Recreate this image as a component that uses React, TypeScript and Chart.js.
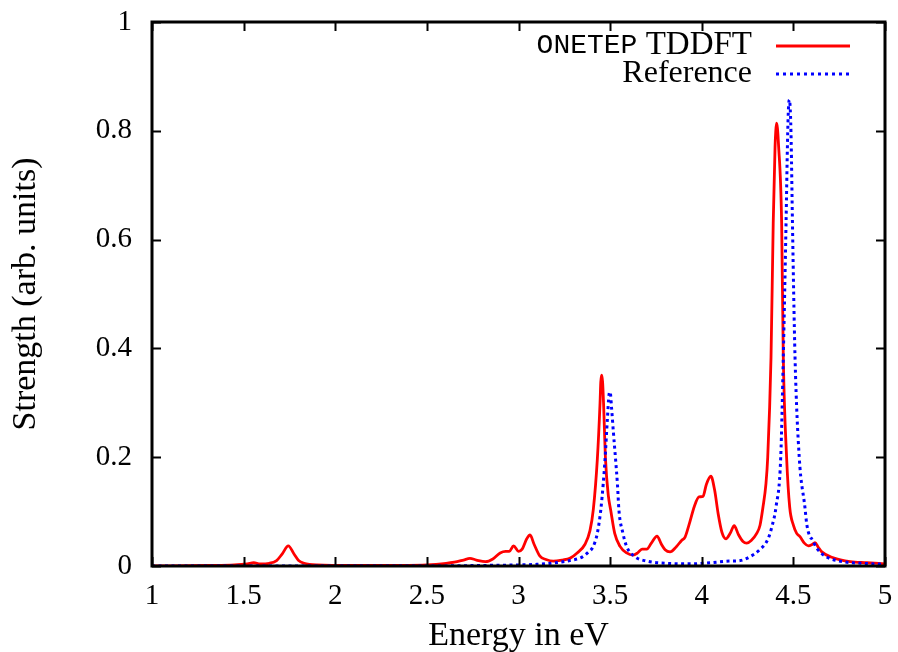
import React, { useEffect, useRef } from "react";
import { Chart, registerables } from "chart.js";

Chart.register(...registerables);

// ONETEP TDDFT spectrum (energy in eV, strength)
const tddftEnergy = [
  1.0, 1.3, 1.45, 1.52, 1.555, 1.59, 1.64, 1.68, 1.71, 1.744, 1.775, 1.8, 1.83, 1.9, 2.1, 2.4,
  2.55, 2.65, 2.7, 2.735, 2.77, 2.82, 2.86, 2.9, 2.93, 2.95, 2.973, 3.0, 3.02, 3.045, 3.063,
  3.085, 3.117, 3.15, 3.19, 3.24, 3.28, 3.32, 3.363, 3.39, 3.408, 3.43, 3.445, 3.449, 3.454,
  3.459, 3.464, 3.475, 3.49, 3.503, 3.525, 3.554, 3.59, 3.625, 3.65, 3.674, 3.7, 3.725, 3.756,
  3.78, 3.8, 3.827, 3.86, 3.89, 3.909, 3.93, 3.96, 3.985, 4.007, 4.025, 4.05, 4.07, 4.09, 4.11,
  4.132, 4.155, 4.177, 4.2, 4.225, 4.245, 4.27, 4.3, 4.318, 4.334, 4.35, 4.36, 4.378, 4.39, 4.4,
  4.404, 4.408, 4.413, 4.418, 4.436, 4.445, 4.463, 4.48, 4.5, 4.518, 4.536, 4.56, 4.582, 4.6,
  4.618, 4.635, 4.655, 4.718, 4.81, 4.9, 5.0,
];
const tddftStrength = [
  0.0, 0.001, 0.002, 0.004, 0.006, 0.004, 0.005, 0.01, 0.022, 0.037, 0.022, 0.01, 0.005, 0.002,
  0.001, 0.001, 0.003, 0.007, 0.011, 0.014, 0.011, 0.008, 0.013, 0.024, 0.027, 0.027, 0.037,
  0.027, 0.031, 0.05, 0.057, 0.04, 0.018, 0.012, 0.009, 0.011, 0.014, 0.024, 0.04, 0.065, 0.103,
  0.195, 0.3, 0.338, 0.351, 0.338, 0.3, 0.195, 0.13, 0.103, 0.06, 0.036, 0.024, 0.02, 0.024,
  0.031, 0.031, 0.042, 0.055, 0.04, 0.03, 0.026, 0.035, 0.047, 0.053, 0.075, 0.11, 0.127, 0.128,
  0.15, 0.165, 0.14, 0.095, 0.062, 0.05, 0.06, 0.074, 0.058, 0.045, 0.042, 0.047, 0.06, 0.075,
  0.108, 0.15, 0.2, 0.384, 0.63, 0.77, 0.8, 0.814, 0.805, 0.78, 0.63, 0.384, 0.2, 0.108, 0.075,
  0.06, 0.054, 0.042, 0.037, 0.039, 0.043, 0.035, 0.026, 0.015, 0.008, 0.006, 0.004,
];

// Reference spectrum
const refEnergy = [
  1.0, 2.5, 2.8, 3.0, 3.1, 3.2, 3.28, 3.345, 3.38, 3.408, 3.43, 3.449, 3.462, 3.472, 3.485,
  3.494, 3.5, 3.508, 3.518, 3.53, 3.54, 3.548, 3.57, 3.59, 3.636, 3.7, 3.8, 3.95, 4.05, 4.15,
  4.21, 4.263, 4.31, 4.362, 4.385, 4.405, 4.431, 4.445, 4.46, 4.468, 4.473, 4.478, 4.483, 4.488,
  4.495, 4.509, 4.532, 4.563, 4.573, 4.59, 4.6, 4.627, 4.68, 4.77, 4.88, 5.0,
];
const refStrength = [
  0.0, 0.0, 0.001, 0.002, 0.003, 0.006, 0.01, 0.016, 0.025, 0.036, 0.06, 0.103, 0.15, 0.195, 0.27,
  0.315, 0.32, 0.29, 0.245, 0.195, 0.15, 0.103, 0.06, 0.036, 0.017, 0.009, 0.005, 0.004, 0.006,
  0.009, 0.01, 0.017, 0.028, 0.05, 0.075, 0.108, 0.2, 0.384, 0.63, 0.78, 0.84, 0.857, 0.84, 0.78,
  0.63, 0.384, 0.2, 0.108, 0.077, 0.054, 0.05, 0.033, 0.017, 0.008, 0.005, 0.003,
];

const xTickValues = [1, 1.5, 2, 2.5, 3, 3.5, 4, 4.5, 5];
const xTickLabels = ["1", "1.5", "2", "2.5", "3", "3.5", "4", "4.5", "5"];
const yTickValues = [0, 0.2, 0.4, 0.6, 0.8, 1];
const yTickLabels = ["0", "0.2", "0.4", "0.6", "0.8", "1"];

const xTitle = "Energy in eV";
const yTitle = "Strength (arb. units)";
const legendCode = "ONETEP";
const legendMain = " TDDFT";
const legendRef = "Reference";

const SERIF = "'Liberation Serif', 'Times New Roman', serif";
const MONO = "'Liberation Mono', 'DejaVu Sans Mono', monospace";
const RED = "#ff0000";
const BLUE = "#0000ff";

const framePlugin = {
  id: "frame",
  afterDatasetsDraw(chart: any) {
    const { ctx, chartArea } = chart;
    const { left, right, top, bottom } = chartArea;
    const xs = chart.scales.x;
    const ys = chart.scales.y;
    ctx.save();
    ctx.strokeStyle = "#000";
    ctx.lineWidth = 2;
    ctx.beginPath();
    const tl = 9;
    xTickValues.forEach((v) => {
      const px = Math.round(xs.getPixelForValue(v)) + 0.5;
      ctx.moveTo(px, bottom);
      ctx.lineTo(px, bottom - tl);
      ctx.moveTo(px, top);
      ctx.lineTo(px, top + tl);
    });
    yTickValues.forEach((v) => {
      const py = Math.round(ys.getPixelForValue(v)) + 0.5;
      ctx.moveTo(left, py);
      ctx.lineTo(left + tl, py);
      ctx.moveTo(right, py);
      ctx.lineTo(right - tl, py);
    });
    ctx.stroke();
    ctx.lineWidth = 3;
    ctx.strokeRect(left, top, right - left, bottom - top);

    // axis titles
    ctx.fillStyle = "#000";
    ctx.font = `34px ${SERIF}`;
    ctx.textAlign = "center";
    ctx.textBaseline = "middle";
    ctx.fillText(xTitle, (left + right) / 2, 636);
    ctx.save();
    ctx.translate(26, (top + bottom) / 2);
    ctx.rotate(-Math.PI / 2);
    ctx.fillText(yTitle, 0, 0);
    ctx.restore();

    // legend
    const textRight = 752;
    const row1 = 45;
    const row2 = 74;
    ctx.textAlign = "right";
    ctx.textBaseline = "middle";
    ctx.font = `33px ${SERIF}`;
    ctx.fillText(legendMain, textRight, row1);
    const mainW = ctx.measureText(legendMain).width;
    ctx.font = `28px ${MONO}`;
    ctx.fillText(legendCode, textRight - mainW, row1 + 1);
    ctx.font = `32px ${SERIF}`;
    ctx.fillText(legendRef, textRight, row2);

    ctx.lineWidth = 2.8;
    ctx.strokeStyle = RED;
    ctx.beginPath();
    ctx.moveTo(776, row1 + 1);
    ctx.lineTo(850, row1 + 1);
    ctx.stroke();
    ctx.strokeStyle = BLUE;
    ctx.setLineDash([3, 4]);
    ctx.beginPath();
    ctx.moveTo(776, row2);
    ctx.lineTo(850, row2);
    ctx.stroke();
    ctx.restore();
  },
};

export default function App() {
  const ref = useRef<HTMLCanvasElement | null>(null);
  useEffect(() => {
    if (!ref.current) return;
    const chart = new Chart(ref.current, {
      type: "line",
      data: {
        datasets: [
          {
            label: legendRef,
            data: refEnergy.map((e, i) => ({ x: e, y: refStrength[i] })),
            borderColor: BLUE,
            borderWidth: 3,
            borderDash: [3, 3.5],
            pointRadius: 0,
            fill: false,
            cubicInterpolationMode: "monotone",
          },
          {
            label: legendCode + legendMain,
            data: tddftEnergy.map((e, i) => ({ x: e, y: tddftStrength[i] })),
            borderColor: RED,
            borderWidth: 2.8,
            pointRadius: 0,
            fill: false,
            cubicInterpolationMode: "monotone",
          },
        ],
      },
      options: {
        responsive: false,
        animation: false,
        devicePixelRatio: 1,
        layout: { padding: { left: 0, right: 13, top: 22, bottom: 0 } },
        plugins: { legend: { display: false }, tooltip: { enabled: false } },
        scales: {
          x: {
            type: "linear",
            min: 1,
            max: 5,
            afterFit: (s: any) => {
              s.height = 86;
              s.paddingLeft = 0;
              s.paddingRight = 0;
            },
            afterBuildTicks: (s: any) => {
              s.ticks = xTickValues.map((v) => ({ value: v }));
            },
            grid: { display: false, drawTicks: false },
            border: { display: false },
            ticks: {
              color: "#000",
              font: { family: SERIF, size: 29 },
              padding: 13,
              maxRotation: 0,
              autoSkip: false,
              callback: (v: any) => {
                const i = xTickValues.indexOf(Number(v));
                return i >= 0 ? xTickLabels[i] : "";
              },
            },
          },
          y: {
            type: "linear",
            min: 0,
            max: 1,
            afterFit: (s: any) => {
              s.width = 152;
              s.paddingTop = 0;
              s.paddingBottom = 0;
            },
            afterBuildTicks: (s: any) => {
              s.ticks = yTickValues.map((v) => ({ value: v }));
            },
            grid: { display: false, drawTicks: false },
            border: { display: false },
            ticks: {
              color: "#000",
              font: { family: SERIF, size: 29 },
              padding: 20,
              autoSkip: false,
              callback: (v: any) => {
                const i = yTickValues.indexOf(Number(v));
                return i >= 0 ? yTickLabels[i] : "";
              },
            },
          },
        },
      },
      plugins: [framePlugin],
    });
    return () => chart.destroy();
  }, []);
  return (
    <div style={{ position: "absolute", left: 0, top: 0, width: 898, height: 652, background: "#fff" }}>
      <canvas ref={ref} width={898} height={652} style={{ display: "block", width: 898, height: 652 }} />
    </div>
  );
}
